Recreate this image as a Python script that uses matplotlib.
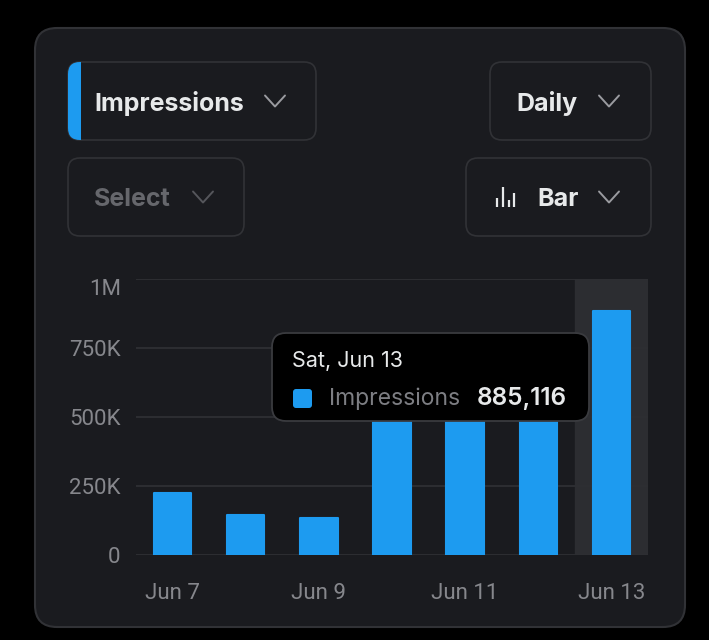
import matplotlib.pyplot as plt
from matplotlib.patches import FancyBboxPatch, Rectangle
import numpy as np

# chart data (Jun 10-12 are hidden behind the tooltip, estimated)
days = ["Jun 7", "Jun 8", "Jun 9", "Jun 10", "Jun 11", "Jun 12", "Jun 13"]
impressions = [226000, 145000, 135000, 620000, 590000, 640000, 885116]
tick_labels = ["Jun 7", "", "Jun 9", "", "Jun 11", "", "Jun 13"]
y_ticks = [0, 250000, 500000, 750000, 1000000]
y_tick_labels = ["0", "250K", "500K", "750K", "1M"]
highlight = 6

BLUE = "#1d9bf0"
CARD = "#1a1b1f"
EDGE = "#313236"
GRAY = "#8b8c91"
WHITE = "#e7e9ea"

plt.rcParams['font.family'] = ['Inter', 'DejaVu Sans']

W, H = 709, 640
fig = plt.figure(figsize=(W / 100, H / 100), dpi=100, facecolor="black")

# background layer in pixel coordinates
ui = fig.add_axes([0, 0, 1, 1], zorder=0)
ui.set_xlim(0, W)
ui.set_ylim(H, 0)
ui.axis('off')
ui.set_facecolor("black")


def rbox(ax, x0, y0, x1, y1, r, fc, ec, lw=1.2, z=1):
    p = FancyBboxPatch((x0 + r, y0 + r), (x1 - x0) - 2 * r, (y1 - y0) - 2 * r,
                       boxstyle=f"round,pad={r}", fc=fc, ec=ec, lw=lw, zorder=z)
    ax.add_patch(p)
    return p


def chevron(ax, cx, cy, color="#9a9ba0"):
    ax.plot([cx - 10, cx, cx + 10], [cy - 5.5, cy + 5.5, cy - 5.5], color=color,
            lw=1.4, solid_capstyle='round', solid_joinstyle='round', zorder=3)


def label(ax, x, y, s, color=WHITE):
    ax.text(x, y, s, color=color, fontsize=18, fontweight="bold",
            va="baseline", ha="left", zorder=3)


rbox(ui, 35, 28, 685, 627, 22, CARD, EDGE, lw=1.5)

# dropdown buttons
rbox(ui, 68, 62, 316, 140, 12, CARD, EDGE)
accent = Rectangle((68, 62), 13, 78, fc=BLUE, ec="none", zorder=2)
accent.set_clip_path(rbox(ui, 68, 62, 316, 140, 12, "none", "none", z=0))
ui.add_patch(accent)
label(ui, 94, 111, "Impressions")
chevron(ui, 275, 101)

rbox(ui, 490, 62, 651, 140, 12, CARD, EDGE)
label(ui, 516, 111, "Daily")
chevron(ui, 609, 101)

rbox(ui, 68, 158, 244, 236, 12, CARD, EDGE)
label(ui, 94, 206, "Select", color="#66676c")
chevron(ui, 203, 197, color="#55565b")

rbox(ui, 466, 158, 651, 236, 12, CARD, EDGE)
for bx, bh in zip([497, 502.5, 508.5, 514], [9, 20, 7, 14]):
    ui.plot([bx, bx], [207, 207 - bh], color=WHITE, lw=1.6, zorder=3,
            solid_capstyle='butt')
label(ui, 537, 206, "Bar")
chevron(ui, 609, 197)

# bar chart
ax = fig.add_axes([136 / W, (H - 555) / H, 512 / W, 276 / H], zorder=1)
ax.patch.set_alpha(0)
x = np.arange(len(days))
ax.axvspan(highlight - 0.5, highlight + 0.5, color="#2c2d31", zorder=0)
ax.bar(x, impressions, width=0.51, color=BLUE, ec=BLUE, lw=1.5,
       joinstyle='round', zorder=2)
ax.set_xlim(-0.5, len(days) - 0.5)
ax.set_ylim(0, 1000000)
ax.set_yticks(y_ticks)
ax.set_yticklabels(y_tick_labels)
ax.set_xticks(x)
ax.set_xticklabels(tick_labels)
ax.grid(axis='y', color="#2e2f33", lw=1.3, zorder=1)
for s in ax.spines.values():
    s.set_visible(False)
ax.tick_params(axis='both', length=0, colors="#86878c", labelsize=16)
ax.tick_params(axis='y', pad=11)
ax.tick_params(axis='x', pad=20)
for t in ax.get_xticklabels() + ax.get_yticklabels():
    t.set_family(['Roboto', 'DejaVu Sans'])
# top label sits inside the plot area
ax.get_yticklabels()[-1].set_va('top')

# tooltip on top
tip = fig.add_axes([0, 0, 1, 1], zorder=3)
tip.set_xlim(0, W)
tip.set_ylim(H, 0)
tip.axis('off')
tip.patch.set_alpha(0)
rbox(tip, 272, 333, 589, 421, 14, "black", "#3a3b3f", lw=1.3)
tip.text(292, 367, "Sat, " + days[highlight], color=WHITE, fontsize=15.5,
         va="baseline", ha="left")
rbox(tip, 293, 389, 312, 408, 3, BLUE, "none", lw=0, z=2)
tip.text(329, 405.5, "Impressions", color="#7d7e83", fontsize=16.5,
         va="baseline", ha="left")
tip.text(567, 405.5, f"{impressions[highlight]:,}", color=WHITE, fontsize=17.5,
         fontweight="semibold", va="baseline", ha="right")

fig.savefig("out.png", dpi=100, facecolor="black")
